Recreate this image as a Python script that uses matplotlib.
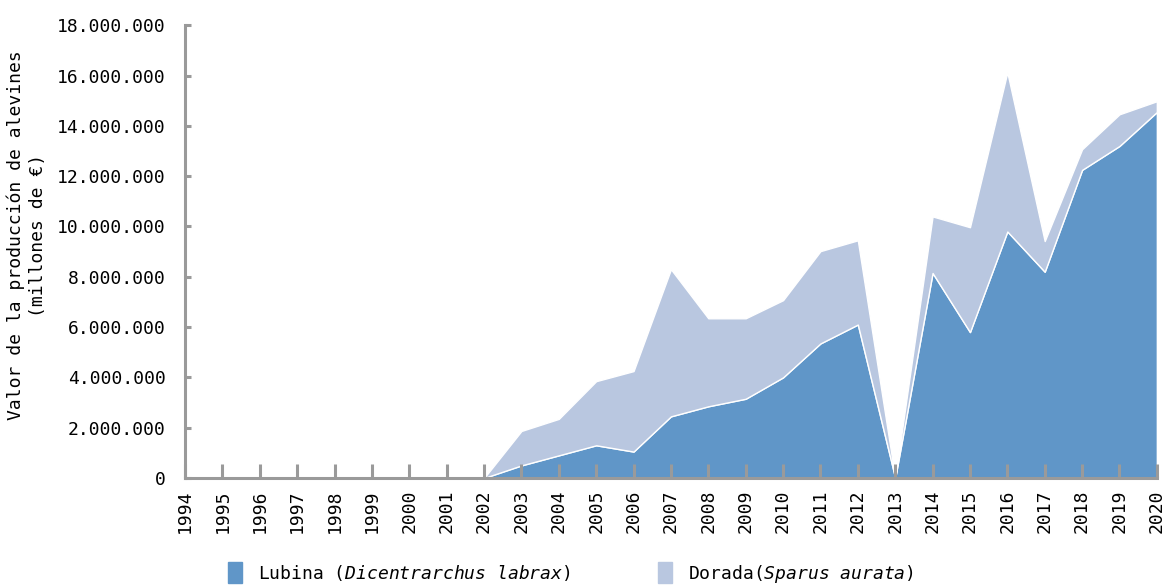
import matplotlib
matplotlib.use('Agg')
from matplotlib import pyplot as plt
from matplotlib.patches import Patch
import numpy as np

years = list(range(1994, 2021))
lubina = [0, 0, 0, 0, 0, 0, 0, 0, 0,
          0.50e6, 0.90e6, 1.30e6, 1.05e6, 2.45e6, 2.85e6, 3.15e6, 4.00e6,
          5.35e6, 6.10e6, 0, 8.15e6, 5.80e6, 9.80e6, 8.20e6, 12.25e6,
          13.20e6, 14.55e6]
total = [0, 0, 0, 0, 0, 0, 0, 0, 0,
         1.87e6, 2.35e6, 3.85e6, 4.25e6, 8.30e6, 6.35e6, 6.35e6, 7.07e6,
         9.02e6, 9.45e6, 0, 10.40e6, 9.97e6, 16.13e6, 9.42e6, 13.07e6,
         14.46e6, 14.98e6]
dorada = [t - l for t, l in zip(total, lubina)]

c_lub = '#6096c8'
c_dor = '#b9c7e0'
grey = '#9a9a9a'
mono = 'DejaVu Sans Mono'
fs = 13

matplotlib.rcParams['mathtext.fontset'] = 'custom'
matplotlib.rcParams['mathtext.rm'] = 'DejaVu Sans Mono'
matplotlib.rcParams['mathtext.it'] = 'DejaVu Sans Mono:italic'

fig = plt.figure(figsize=(11.65, 5.87), dpi=100)
ax = fig.add_axes([0.1588, 0.1857, 0.8342, 0.7713])

ax.stackplot(years, lubina, dorada, colors=[c_lub, c_dor],
             edgecolor='white', linewidth=1.0)

ax.set_xlim(1994, 2020)
ax.set_ylim(0, 18e6)
ax.set_xticks(years)
ax.set_xticklabels([str(y) for y in years], rotation=90, family=mono,
                   fontsize=fs)
yt = np.arange(0, 18e6 + 1, 2e6)
ax.set_yticks(yt)
ax.set_yticklabels(['0' if v == 0 else '{:,.0f}'.format(v).replace(',', '.')
                    for v in yt], family=mono, fontsize=fs)

for s in ['top', 'right']:
    ax.spines[s].set_visible(False)
for s in ['left', 'bottom']:
    ax.spines[s].set_color(grey)
    ax.spines[s].set_linewidth(2.2)
ax.tick_params(axis='x', direction='in', color=grey, width=2.2,
               length=10, pad=8)
ax.tick_params(axis='y', direction='in', color=grey, width=2.2,
               length=4, pad=14)

ax.set_ylabel('Valor de la producción de alevines\n(millones de €)',
              family=mono, fontsize=fs, linespacing=1.3)
ax.yaxis.set_label_coords(-0.142, 0.536)

labels = ['Lubina $\\mathit{(Dicentrarchus}$ $\\mathit{labrax)}$',
          'Dorada$\\mathit{(Sparus}$ $\\mathit{aurata)}$']
leg = fig.legend(handles=[Patch(color=c_lub), Patch(color=c_dor)],
                 labels=labels,
                 loc='lower center', bbox_to_anchor=(0.49, -0.024), ncol=2,
                 frameon=False, prop={'family': mono, 'size': fs},
                 handlelength=0.8, handleheight=1.4, handletextpad=0.9,
                 columnspacing=4.8)

fig.savefig('out.png', dpi=100)
plt.close(fig)
